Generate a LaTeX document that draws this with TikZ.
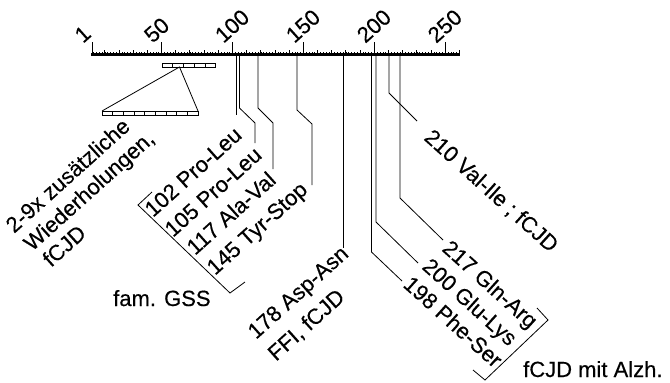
\documentclass[tikz,border=0pt]{standalone}
\usepackage{fontspec}
\setmainfont{Liberation Sans}
\newfontfamily\labfont{Liberation Sans}[FakeBold=0.3]
\usetikzlibrary{calc}
\begin{document}
\begin{tikzpicture}[x=1pt,y=-1pt,
  lab/.style={font=\labfont\fontsize{22}{26}\selectfont, inner sep=0pt},
  axlab/.style={lab, rotate=42, anchor=base west},
  uplab/.style={lab, rotate=42, anchor=base west},
  dnlab/.style={lab, rotate=-42, anchor=base west},
  conn/.style={line width=0.8pt},
  rep/.style={line width=0.6pt}]
\useasboundingbox (0,0) rectangle (670,383);
% axis
\coordinate (axA) at (91,54.5);
\coordinate (axB) at (460,54.5);
\draw[line width=3.5pt] (axA) -- (axB);
\foreach \u in {2,4,...,260}{\draw[line width=0.4pt] ({90.6+1.418*\u},54) -- ++(0,-2);}
\foreach \u in {10,20,...,260}{\draw[line width=0.8pt] ({90.6+1.418*\u},54) -- ++(0,-4.5);}
\foreach \u/\n in {1/t1,50/t50,100/t100,150/t150,200/t200,250/t250}{
  \draw[line width=0.9pt] ({90.6+1.418*\u},54) -- ++(0,-12) coordinate (\n);
  \node[axlab] (n\n) at ($(\n)+(-9,2)$) {\u};
}
% repeat boxes
\draw[rep] (162,63.5) rectangle (215.5,67);
\foreach \i in {1,...,4}{\draw[rep] ({162+10.7*\i},63.5) -- ++(0,3.5);}
\draw[rep] (102,111) rectangle (198,115);
\foreach \i in {1,...,8}{\draw[rep] ({102+10.67*\i},111) -- ++(0,4);}
\coordinate (apex) at (179.5,67);
\draw[conn] (102,111) -- (apex) -- (198,111);
% mutation lines
\coordinate (m102) at (236,54);
\coordinate (m105) at (239.5,54);
\coordinate (m117) at (258,54);
\coordinate (m145) at (297,54);
\coordinate (m178) at (343.5,54);
\coordinate (m198) at (371.5,54);
\coordinate (m200) at (376,54);
\coordinate (m210) at (389,54);
\coordinate (m217) at (400,54);
\draw[conn] (m102) -- (236,115);
\draw[conn] (m105) -- (239.5,108) -- (255,123) -- (255,143);
\draw[conn] (m117) -- (258,108) -- (273,123) -- (273,169);
\draw[conn] (m145) -- (297,110) -- (312,124) -- (312,185);
\draw[conn] (m178) -- (343.5,248);
\draw[conn] (m198) -- (371.5,252) -- (402,281);
\draw[conn] (m200) -- (376,222) -- (418,263);
\draw[conn] (m210) -- (389,93) -- (417,121);
\draw[conn] (m217) -- (400,198) -- (443,240);
% labels left group
\node[uplab] (l102) at (153,218) {102 Pro-Leu};
\node[uplab] (l105) at (173,238) {105 Pro-Leu};
\node[uplab] (l117) at (195,256) {117 Ala-Val};
\node[uplab] (l145) at (215,276) {145 Tyr-Stop};
\draw[conn] (152,192) -- (138,205) -- (230,293) -- (245,282);
\node[lab, anchor=base west] (gss) at (113,306) {fam. GSS};
% 178
\node[uplab] (l178a) at (256,340) {178 Asp-Asn};
\node[uplab] (l178b) at (276,362) {FFI, fCJD};
% repeats
\node[uplab] (r1) at (14,234) {2-9x zusätzliche};
\node[uplab] (r2) at (32,252) {Wiederholungen,};
\node[uplab] (r3) at (51,268) {fCJD};
% right group
\node[dnlab] (l210) at (423,139) {210 Val-Ile ; fCJD};
\node[dnlab] (l217) at (441,250) {217 Gln-Arg};
\node[dnlab] (l200) at (421,268) {200 Glu-Lys};
\node[dnlab] (l198) at (402,286) {198 Phe-Ser};
\draw[conn] (537,308) -- (548,320) -- (485,380) -- (473,370);
\node[lab, anchor=base west] (alz) at (523,377) {fCJD mit Alzh.};
\end{tikzpicture}
\end{document}
